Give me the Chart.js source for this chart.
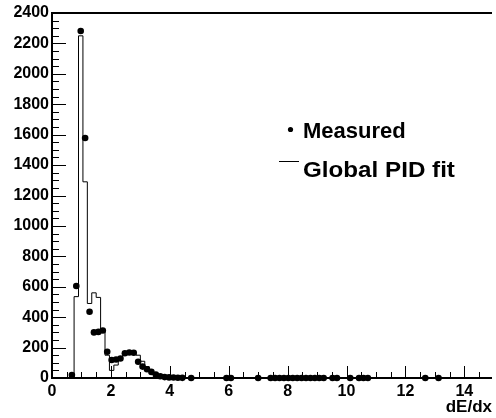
<!DOCTYPE html>
<html lang="en">
<head>
  <meta charset="UTF-8" />
  <title>dE/dx - Measured vs Global PID fit</title>
  <script src="https://cdn.jsdelivr.net/npm/chart.js"></script>
  <style>
    body {
      margin: 0;
      background: #ffffff;
    }

    #wrap {
      width: 496px;
      height: 418px;
      position: relative;
    }
  </style>
</head>
<body>
  <div id="wrap"><canvas id="pidChart"></canvas></div>

  <script>
    // Measured points (bin centres and counts)
    const measuredX = [0.675, 0.825, 0.975, 1.125, 1.275, 1.425, 1.575, 1.725, 1.875, 2.025,
      2.175, 2.325, 2.475, 2.625, 2.775, 2.925, 3.075, 3.225, 3.375, 3.525,
      3.675, 3.825, 3.975, 4.125, 4.275, 4.425, 4.725, 5.925, 6.075, 7.0,
      7.425, 7.575, 7.725, 7.875, 8.025, 8.175, 8.325, 8.475, 8.625, 8.775,
      8.925, 9.075, 9.225, 9.525, 9.675, 10.125, 10.425, 10.575, 10.725, 12.675, 13.125];
    const measuredY = [20, 605, 2282, 1578, 436, 300, 303, 312, 173, 118,
      122, 128, 163, 168, 166, 107, 75, 58, 40, 22,
      12, 6, 4, 3, 2, 1, 0, 0, 0, 0,
      0, 0, 0, 0, 0, 0, 0, 0, 0, 0,
      0, 0, 0, 0, 0, 0, 0, 0, 0, 0, 0];

    // Global PID fit histogram (left bin edges and contents)
    const fitEdges = [0.60, 0.75, 0.90, 1.05, 1.20, 1.35, 1.50, 1.65, 1.80, 1.95,
      2.10, 2.25, 2.40, 2.55, 2.70, 2.85, 3.00, 3.15, 3.30, 3.45,
      3.60, 3.75, 3.90, 4.05];
    const fitValues = [0, 535, 2250, 1290, 490, 560, 530, 320, 150, 50,
      85, 135, 170, 172, 165, 150, 110, 75, 45, 25,
      12, 6, 3, 0];

    const yTicks = [0, 200, 400, 600, 800, 1000, 1200, 1400, 1600, 1800, 2000, 2200, 2400];
    const xTicks = [0, 2, 4, 6, 8, 10, 12, 14];

    const FONT = "'Liberation Sans', Arial, Helvetica, sans-serif";

    // ROOT style frame with ticks drawn inside the pad
    const frame = {
      id: 'frame',
      beforeDatasetsDraw(chart) {
        const { ctx, chartArea: a, scales: { x, y } } = chart;
        ctx.save();
        ctx.strokeStyle = '#000';
        ctx.lineWidth = 1;
        ctx.beginPath();
        for (let v = 0; v <= 2400; v += 50) {
          const py = Math.round(y.getPixelForValue(v)) + 0.5;
          const len = v % 200 === 0 ? 14 : 7;
          ctx.moveTo(a.left, py);
          ctx.lineTo(a.left + len, py);
        }
        for (let v = 0; v <= x.max; v += 0.5) {
          const px = Math.round(x.getPixelForValue(v)) + 0.5;
          const len = v % 2 === 0 ? 12 : 6;
          ctx.moveTo(px, a.bottom);
          ctx.lineTo(px, a.bottom - len);
        }
        ctx.stroke();

        ctx.lineWidth = 2;
        ctx.beginPath();
        ctx.moveTo(a.right, a.top);
        ctx.lineTo(a.left, a.top);
        ctx.lineTo(a.left, a.bottom);
        ctx.lineTo(a.right, a.bottom);
        ctx.stroke();
        ctx.restore();
      },
      afterDraw(chart) {
        const { ctx } = chart;
        ctx.save();
        ctx.fillStyle = '#000';
        ctx.strokeStyle = '#000';
        ctx.font = 'bold 22px ' + FONT;
        ctx.textBaseline = 'alphabetic';
        ctx.textAlign = 'left';
        // Measured entry
        ctx.beginPath();
        ctx.arc(290.5, 129.5, 2.6, 0, Math.PI * 2);
        ctx.fill();
        ctx.fillText('Measured', 303, 138);
        // Global PID fit entry
        ctx.lineWidth = 1;
        ctx.beginPath();
        ctx.moveTo(279, 161.5);
        ctx.lineTo(299, 161.5);
        ctx.stroke();
        ctx.translate(303, 177);
        ctx.scale(1.1, 1);
        ctx.fillText('Global PID fit', 0, 0);
        ctx.restore();
      }
    };

    const ctx = document.getElementById('pidChart').getContext('2d');
    new Chart(ctx, {
      type: 'scatter',
      data: {
        datasets: [
          {
            label: 'Measured',
            data: measuredX.map((v, i) => ({ x: v, y: measuredY[i] })),
            pointRadius: 3.3,
            pointBackgroundColor: '#000',
            pointBorderWidth: 0,
            showLine: false,
            clip: false,
            order: 0
          },
          {
            label: 'Global PID fit',
            data: fitEdges.map((v, i) => ({ x: v, y: fitValues[i] })),
            showLine: true,
            stepped: true,
            borderColor: '#000',
            borderWidth: 1,
            pointRadius: 0,
            fill: false,
            order: 1
          }
        ]
      },
      options: {
        responsive: true,
        maintainAspectRatio: false,
        animation: false,
        layout: { padding: { top: 13, left: 0, right: 0, bottom: 0 } },
        plugins: {
          legend: { display: false },
          tooltip: { enabled: false }
        },
        scales: {
          x: {
            type: 'linear',
            min: 0,
            max: 14.94,
            grid: { display: false, drawTicks: false },
            border: { display: false },
            afterBuildTicks: s => { s.ticks = xTicks.map(v => ({ value: v })); },
            afterFit: s => { s.height = 40; },
            ticks: {
              padding: 4,
              color: '#000',
              maxRotation: 0,
              callback: v => String(v),
              font: { family: FONT, size: 16, weight: 'bold' }
            },
            title: {
              display: true,
              text: 'dE/dx',
              align: 'end',
              color: '#000',
              padding: { top: 0, bottom: 0 },
              font: { family: FONT, size: 17, weight: 'bold' }
            }
          },
          y: {
            min: 0,
            max: 2400,
            grid: { display: false, drawTicks: false },
            border: { display: false },
            afterBuildTicks: s => { s.ticks = yTicks.map(v => ({ value: v })); },
            afterFit: s => { s.width = 52; },
            ticks: {
              padding: 3,
              color: '#000',
              callback: v => String(v),
              font: { family: FONT, size: 16, weight: 'bold' }
            }
          }
        }
      },
      plugins: [frame]
    });
  </script>
</body>
</html>
